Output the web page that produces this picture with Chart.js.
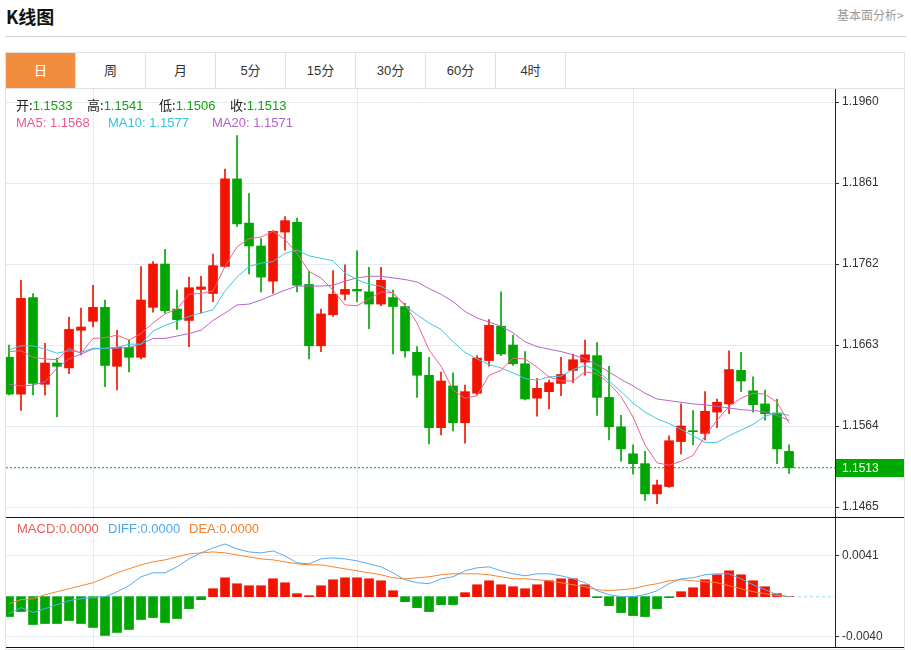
<!DOCTYPE html>
<html>
<head>
<meta charset="utf-8">
<script src="https://cdn.jsdelivr.net/npm/chart.js@4.4.0/dist/chart.umd.min.js"></script>
<style>
  body { margin: 0; background: #fff; font-family: 'Liberation Sans', 'Noto Sans CJK SC', sans-serif; }
  #page { position: relative; width: 911px; height: 650px; overflow: hidden; }
  .abs { position: absolute; }
  .title { left: 6px; top: 4px; font: bold 18px 'Noto Sans CJK SC', sans-serif; line-height: 24px; color: #111; }
  .more { left: 837px; top: 7px; font: 12px 'Noto Sans CJK SC', sans-serif; line-height: 16px; color: #999; }
  .sep { left: 5px; top: 36px; width: 901px; height: 1px; background: #d4d4d4; }
  .box { left: 5px; top: 52px; width: 898px; height: 596px; border: 1px solid #e3e3e3; }
  .tabrow { left: 6px; top: 53px; width: 898px; height: 35px; border-bottom: 1px solid #e0e0e0; }
  .tab { top: 0; width: 69px; height: 35px; border-right: 1px solid #e0e0e0; text-align: center;
         line-height: 35px; font-size: 13px; color: #333; font-family: 'Liberation Sans', 'Noto Sans CJK SC', sans-serif; }
  .tab.on { background: #f28c3f; color: #fff; }
  .hline { left: 6px; width: 898px; height: 1px; background: #111; }
  .lbl { font-size: 13px; line-height: 17px; white-space: nowrap; z-index: 5; }
  .k { color: #222; font-family: 'Noto Sans CJK SC', sans-serif; }
  .g { color: #12a312; }
  canvas { position: absolute; }
</style>
</head>
<body>
<div id="page">
  <div class="abs title">K线图</div>
  <div class="abs more">基本面分析&gt;</div>
  <div class="abs sep"></div>
  <div class="abs box"></div>
  <div class="abs tabrow" id="tabs"></div>

  <div style="position:absolute;left:6px;top:89px;width:898px;height:428px;">
    <canvas id="kline"></canvas>
  </div>
  <div class="abs hline" style="top:517px;"></div>
  <div style="position:absolute;left:6px;top:518px;width:898px;height:129px;">
    <canvas id="macd"></canvas>
  </div>
  <div class="abs hline" style="top:647px;"></div>

  <div class="abs lbl" style="left:16px;top:96px;"><span class="k">开:</span><span class="g">1.1533</span></div>
  <div class="abs lbl" style="left:87px;top:96px;"><span class="k">高:</span><span class="g">1.1541</span></div>
  <div class="abs lbl" style="left:159px;top:96px;"><span class="k">低:</span><span class="g">1.1506</span></div>
  <div class="abs lbl" style="left:230px;top:96px;"><span class="k">收:</span><span class="g">1.1513</span></div>
  <div class="abs lbl" style="left:16px;top:114px;color:#f0588c;">MA5: 1.1568</div>
  <div class="abs lbl" style="left:108px;top:114px;color:#35c4e0;">MA10: 1.1577</div>
  <div class="abs lbl" style="left:212px;top:114px;color:#b562cc;">MA20: 1.1571</div>

  <div class="abs lbl" style="left:17px;top:520px;color:#f05a55;">MACD:0.0000</div>
  <div class="abs lbl" style="left:108px;top:520px;color:#4ea8ee;">DIFF:0.0000</div>
  <div class="abs lbl" style="left:189px;top:520px;color:#f47e2c;">DEA:0.0000</div>
</div>

<script>
const tabLabels = ['日', '周', '月', '5分', '15分', '30分', '60分', '4时'];

const opens = [1.1648, 1.1603, 1.1721, 1.1615, 1.1641, 1.1635, 1.1681, 1.1692, 1.1709, 1.1637,
  1.1660, 1.1648, 1.1709, 1.1762, 1.1707, 1.1693, 1.1731, 1.1726, 1.1759, 1.1866,
  1.1812, 1.1784, 1.1741, 1.1801, 1.1813, 1.1737, 1.1662, 1.1700, 1.1725, 1.1731,
  1.1728, 1.1713, 1.1721, 1.1710, 1.1654, 1.1626, 1.1562, 1.1613, 1.1568, 1.1604,
  1.1644, 1.1686, 1.1663, 1.1640, 1.1598, 1.1606, 1.1616, 1.1632, 1.1642, 1.1650,
  1.1599, 1.1563, 1.1530, 1.1518, 1.1481, 1.1490, 1.1545, 1.1558, 1.1555, 1.1581,
  1.1591, 1.1632, 1.1607, 1.1591, 1.1580, 1.1533];
const highs = [1.1663, 1.1742, 1.1726, 1.1665, 1.1647, 1.1697, 1.1708, 1.1736, 1.1718, 1.1681,
  1.1669, 1.1759, 1.1765, 1.1780, 1.1730, 1.1746, 1.1747, 1.1774, 1.1878, 1.1919,
  1.1848, 1.1793, 1.1803, 1.1820, 1.1818, 1.1753, 1.1707, 1.1754, 1.1761, 1.1778,
  1.1758, 1.1758, 1.1730, 1.1714, 1.1661, 1.1648, 1.1630, 1.1629, 1.1614, 1.1650,
  1.1694, 1.1728, 1.1675, 1.1655, 1.1622, 1.1620, 1.1648, 1.1652, 1.1669, 1.1666,
  1.1637, 1.1577, 1.1541, 1.1533, 1.1498, 1.1552, 1.1591, 1.1583, 1.1606, 1.1597,
  1.1656, 1.1654, 1.1624, 1.1608, 1.1597, 1.1541];
const lows = [1.1602, 1.1583, 1.1602, 1.1602, 1.1575, 1.1628, 1.1651, 1.1685, 1.1612, 1.1608,
  1.1630, 1.1646, 1.1703, 1.1702, 1.1682, 1.1661, 1.1702, 1.1716, 1.1758, 1.1808,
  1.1750, 1.1728, 1.1726, 1.1779, 1.1728, 1.1646, 1.1655, 1.1698, 1.1718, 1.1716,
  1.1683, 1.1711, 1.1652, 1.1648, 1.1599, 1.1542, 1.1553, 1.1558, 1.1543, 1.1602,
  1.1637, 1.1650, 1.1638, 1.1596, 1.1576, 1.1585, 1.1601, 1.1617, 1.1626, 1.1577,
  1.1547, 1.1521, 1.1505, 1.1473, 1.1469, 1.1489, 1.1530, 1.1541, 1.1547, 1.1562,
  1.1579, 1.1606, 1.1581, 1.1571, 1.1518, 1.1506];
const closes = [1.1603, 1.1720, 1.1616, 1.1641, 1.1637, 1.1682, 1.1685, 1.1709, 1.1638, 1.1660,
  1.1648, 1.1718, 1.1762, 1.1705, 1.1694, 1.1733, 1.1734, 1.1760, 1.1866, 1.1811,
  1.1784, 1.1746, 1.1802, 1.1815, 1.1736, 1.1662, 1.1701, 1.1725, 1.1731, 1.1729,
  1.1713, 1.1742, 1.1710, 1.1656, 1.1626, 1.1562, 1.1619, 1.1568, 1.1606, 1.1647,
  1.1687, 1.1652, 1.1640, 1.1597, 1.1610, 1.1617, 1.1627, 1.1645, 1.1651, 1.1599,
  1.1563, 1.1536, 1.1518, 1.1481, 1.1492, 1.1546, 1.1564, 1.1557, 1.1582, 1.1593,
  1.1633, 1.1619, 1.1590, 1.1579, 1.1536, 1.1513];

const ma5 = [1.1655, 1.1656, 1.1648, 1.1646, 1.1645, 1.1659, 1.1653, 1.1671, 1.1672, 1.1675,
  1.1669, 1.1677, 1.1690, 1.1701, 1.1707, 1.1725, 1.1726, 1.1729, 1.1759, 1.1783,
  1.1793, 1.1795, 1.1802, 1.1792, 1.1775, 1.1753, 1.1745, 1.1730, 1.1712, 1.1711,
  1.1719, 1.1728, 1.1727, 1.1712, 1.1690, 1.1657, 1.1637, 1.1608, 1.1598, 1.1601,
  1.1626, 1.1632, 1.1647, 1.1646, 1.1636, 1.1624, 1.1619, 1.1619, 1.1630, 1.1628,
  1.1616, 1.1600, 1.1575, 1.1541, 1.1519, 1.1516, 1.1521, 1.1528, 1.1552, 1.1571,
  1.1588, 1.1598, 1.1604, 1.1603, 1.1593, 1.1568];
const ma10 = [1.1657, 1.1662, 1.1662, 1.1658, 1.1653, 1.1656, 1.1654, 1.1659, 1.1659, 1.1660,
  1.1664, 1.1664, 1.1680, 1.1687, 1.1692, 1.1698, 1.1702, 1.1706, 1.1729, 1.1746,
  1.1759, 1.1763, 1.1765, 1.1775, 1.1779, 1.1772, 1.1769, 1.1766, 1.1751, 1.1743,
  1.1737, 1.1735, 1.1726, 1.1711, 1.1700, 1.1690, 1.1682, 1.1667, 1.1654, 1.1646,
  1.1639, 1.1635, 1.1629, 1.1622, 1.1620, 1.1624, 1.1625, 1.1633, 1.1638, 1.1632,
  1.1619, 1.1606, 1.1592, 1.1581, 1.1573, 1.1567, 1.1560, 1.1552, 1.1544, 1.1544,
  1.1552, 1.1559, 1.1566, 1.1576, 1.1580, 1.1577];
const ma20 = [1.1615, 1.1613, 1.1614, 1.1618, 1.1635, 1.1646, 1.1652, 1.1658, 1.1659, 1.1659,
  1.1660, 1.1664, 1.1671, 1.1671, 1.1674, 1.1677, 1.1681, 1.1693, 1.1702, 1.1712,
  1.1713, 1.1718, 1.1724, 1.1730, 1.1735, 1.1735, 1.1735, 1.1736, 1.1741, 1.1745,
  1.1747, 1.1747, 1.1745, 1.1743, 1.1740, 1.1732, 1.1725, 1.1716, 1.1704, 1.1696,
  1.1691, 1.1686, 1.1678, 1.1667, 1.1661, 1.1658, 1.1655, 1.1651, 1.1646, 1.1639,
  1.1630, 1.1621, 1.1613, 1.1604, 1.1597, 1.1595, 1.1593, 1.1591, 1.1590, 1.1588,
  1.1586, 1.1584, 1.1583, 1.1581, 1.1577, 1.1571];

const macdBars = [-0.0020, -0.0015, -0.0028, -0.0027, -0.0027, -0.0024, -0.0027, -0.0031, -0.0039, -0.0036,
  -0.0033, -0.0023, -0.0021, -0.0026, -0.0022, -0.0012, -0.0003, 0.0008, 0.0019, 0.0013,
  0.0011, 0.0011, 0.0018, 0.0014, 0.0003, 0.0001, 0.0011, 0.0017, 0.0019, 0.0019,
  0.0018, 0.0016, 0.0006, -0.0005, -0.0011, -0.0015, -0.0008, -0.0008, 0.0004, 0.0012,
  0.0016, 0.0012, 0.0010, 0.0008, 0.0012, 0.0016, 0.0018, 0.0018, 0.0012, -0.0001,
  -0.0009, -0.0016, -0.0019, -0.0020, -0.0012, -0.0001, 0.0005, 0.0009, 0.0017, 0.0022,
  0.0026, 0.0022, 0.0016, 0.0010, 0.0003, 0.0000];
const diffLine = [-0.0017, -0.0011, -0.0016, -0.0012, -0.0008, -0.0004, -0.0002, -0.0001, 0.0000, 0.0005,
  0.0011, 0.0020, 0.0024, 0.0024, 0.0030, 0.0038, 0.0044, 0.0049, 0.0053, 0.0048,
  0.0045, 0.0044, 0.0046, 0.0041, 0.0034, 0.0033, 0.0038, 0.0039, 0.0038, 0.0036,
  0.0033, 0.0030, 0.0024, 0.0017, 0.0014, 0.0013, 0.0018, 0.0020, 0.0026, 0.0029,
  0.0030, 0.0026, 0.0023, 0.0021, 0.0023, 0.0023, 0.0021, 0.0018, 0.0014, 0.0006,
  0.0002, 0.0000, 0.0000, 0.0002, 0.0006, 0.0013, 0.0018, 0.0019, 0.0022, 0.0023,
  0.0023, 0.0018, 0.0012, 0.0007, 0.0002, 0.0000];
const deaLine = [-0.0007, -0.0003, -0.0002, 0.0002, 0.0005, 0.0008, 0.0011, 0.0014, 0.0019, 0.0024,
  0.0028, 0.0032, 0.0035, 0.0037, 0.0040, 0.0043, 0.0044, 0.0045, 0.0044, 0.0042,
  0.0040, 0.0038, 0.0037, 0.0035, 0.0033, 0.0032, 0.0032, 0.0030, 0.0028, 0.0026,
  0.0024, 0.0022, 0.0019, 0.0018, 0.0019, 0.0020, 0.0022, 0.0023, 0.0023, 0.0023,
  0.0022, 0.0020, 0.0018, 0.0018, 0.0017, 0.0016, 0.0014, 0.0012, 0.0010, 0.0007,
  0.0006, 0.0007, 0.0008, 0.0011, 0.0013, 0.0016, 0.0017, 0.0016, 0.0015, 0.0014,
  0.0011, 0.0008, 0.0005, 0.0003, 0.0001, 0.0000];

const priceTicks = [1.1465, 1.1564, 1.1663, 1.1762, 1.1861, 1.1960];
const macdTicks = [-0.0040, 0.0041];
const monthTicks = [8, 30, 53];
const lastClose = 1.1513;

// tabs
const tabBox = document.getElementById('tabs');
tabLabels.forEach(function(t, i) {
  const d = document.createElement('div');
  d.className = 'abs tab' + (i === 0 ? ' on' : '');
  d.style.left = (i * 70) + 'px';
  d.textContent = t;
  tabBox.appendChild(d);
});

Chart.defaults.font.family = "'Liberation Sans', sans-serif";
Chart.defaults.font.size = 12;
Chart.defaults.color = '#333';

const RED = '#f21300';
const GREEN = '#02a602';
const GRID = '#e3ebf2';
const xMin = 0.75, xMax = 69.83;
const idx = closes.map(function(_, i) { return i + 1; });
const upColors = closes.map(function(c, i) { return c >= opens[i] ? RED : GREEN; });

function xAxis() {
  return {
    type: 'linear', min: xMin, max: xMax, offset: false,
    afterBuildTicks: function(s) { s.ticks = monthTicks.map(function(v) { return { value: v }; }); },
    afterFit: function(s) { s.height = 0; s.paddingLeft = 0; s.paddingRight = 0; },
    ticks: { display: false },
    grid: { color: GRID, drawTicks: false, offset: false },
    border: { display: false }
  };
}
function yAxis(min, max, tickVals) {
  return {
    type: 'linear', position: 'right', min: min, max: max,
    afterBuildTicks: function(s) { s.ticks = tickVals.map(function(v) { return { value: v }; }); },
    afterFit: function(s) { s.width = 69; s.paddingTop = 0; s.paddingBottom = 0; },
    ticks: { padding: 3, color: '#333', callback: function(v) { return v.toFixed(4); } },
    grid: { color: GRID, tickColor: '#333', tickLength: 4 },
    border: { display: true, color: '#222' }
  };
}

const lastPriceTag = {
  id: 'lastPriceTag',
  afterDraw: function(chart) {
    const py = Math.round(chart.scales.y.getPixelForValue(lastClose));
    const ctx = chart.ctx;
    const left = chart.chartArea.right + 1;
    ctx.save();
    ctx.fillStyle = '#00a900';
    ctx.fillRect(left, py - 9, 68, 18);
    ctx.fillStyle = '#fff';
    ctx.font = "12px 'Liberation Sans'";
    ctx.textBaseline = 'middle';
    ctx.fillText(lastClose.toFixed(4), left + 6, py + 1);
    ctx.restore();
  }
};

function lineSet(values, color, order) {
  return {
    type: 'line',
    data: values.map(function(v, i) { return { x: idx[i], y: v }; }),
    borderColor: color, borderWidth: 1, pointRadius: 0, tension: 0, order: order
  };
}

new Chart(document.getElementById('kline'), {
  type: 'bar',
  data: {
    datasets: [
      {
        data: idx.map(function(x, i) { return { x: x, y: [lows[i], highs[i]] }; }),
        backgroundColor: upColors, grouped: false, barThickness: 1, maxBarThickness: 1,
        minBarLength: 1, order: 4
      },
      {
        data: idx.map(function(x, i) { return { x: x, y: [opens[i], closes[i]] }; }),
        backgroundColor: upColors, grouped: false, barThickness: 9, maxBarThickness: 9,
        minBarLength: 1, order: 3
      },
      lineSet(ma20, '#b666cc', 2),
      lineSet(ma10, '#40c6e2', 1),
      lineSet(ma5, '#f0608e', 0),
      {
        type: 'line',
        data: [{ x: xMin, y: lastClose }, { x: xMax, y: lastClose }],
        borderColor: '#00a900', borderWidth: 1, borderDash: [2, 2], pointRadius: 0, order: 5
      }
    ]
  },
  options: {
    responsive: true,
    maintainAspectRatio: false,
    animation: false,
    layout: { padding: 0 },
    plugins: { legend: { display: false }, tooltip: { enabled: false } },
    scales: {
      x: xAxis(),
      y: yAxis(1.145278, 1.197589, priceTicks)
    }
  },
  plugins: [lastPriceTag]
});

new Chart(document.getElementById('macd'), {
  type: 'bar',
  data: {
    datasets: [
      {
        data: macdBars.map(function(v, i) { return { x: idx[i], y: v }; }),
        backgroundColor: macdBars.map(function(v) { return v >= 0 ? RED : GREEN; }),
        grouped: false, barThickness: 9, maxBarThickness: 9, order: 3
      },
      {
        type: 'line',
        data: [{ x: xMin, y: 0 }, { x: xMax, y: 0 }],
        borderColor: '#a8d8ee', borderWidth: 1, borderDash: [3, 3], pointRadius: 0, order: 4
      },
      lineSet(deaLine, '#f7862e', 1),
      lineSet(diffLine, '#5aaaf0', 0)
    ]
  },
  options: {
    responsive: true,
    maintainAspectRatio: false,
    animation: false,
    layout: { padding: 0 },
    plugins: { legend: { display: false }, tooltip: { enabled: false } },
    scales: {
      x: xAxis(),
      y: yAxis(-0.00506, 0.00791, macdTicks)
    }
  }
});
</script>
</body>
</html>
